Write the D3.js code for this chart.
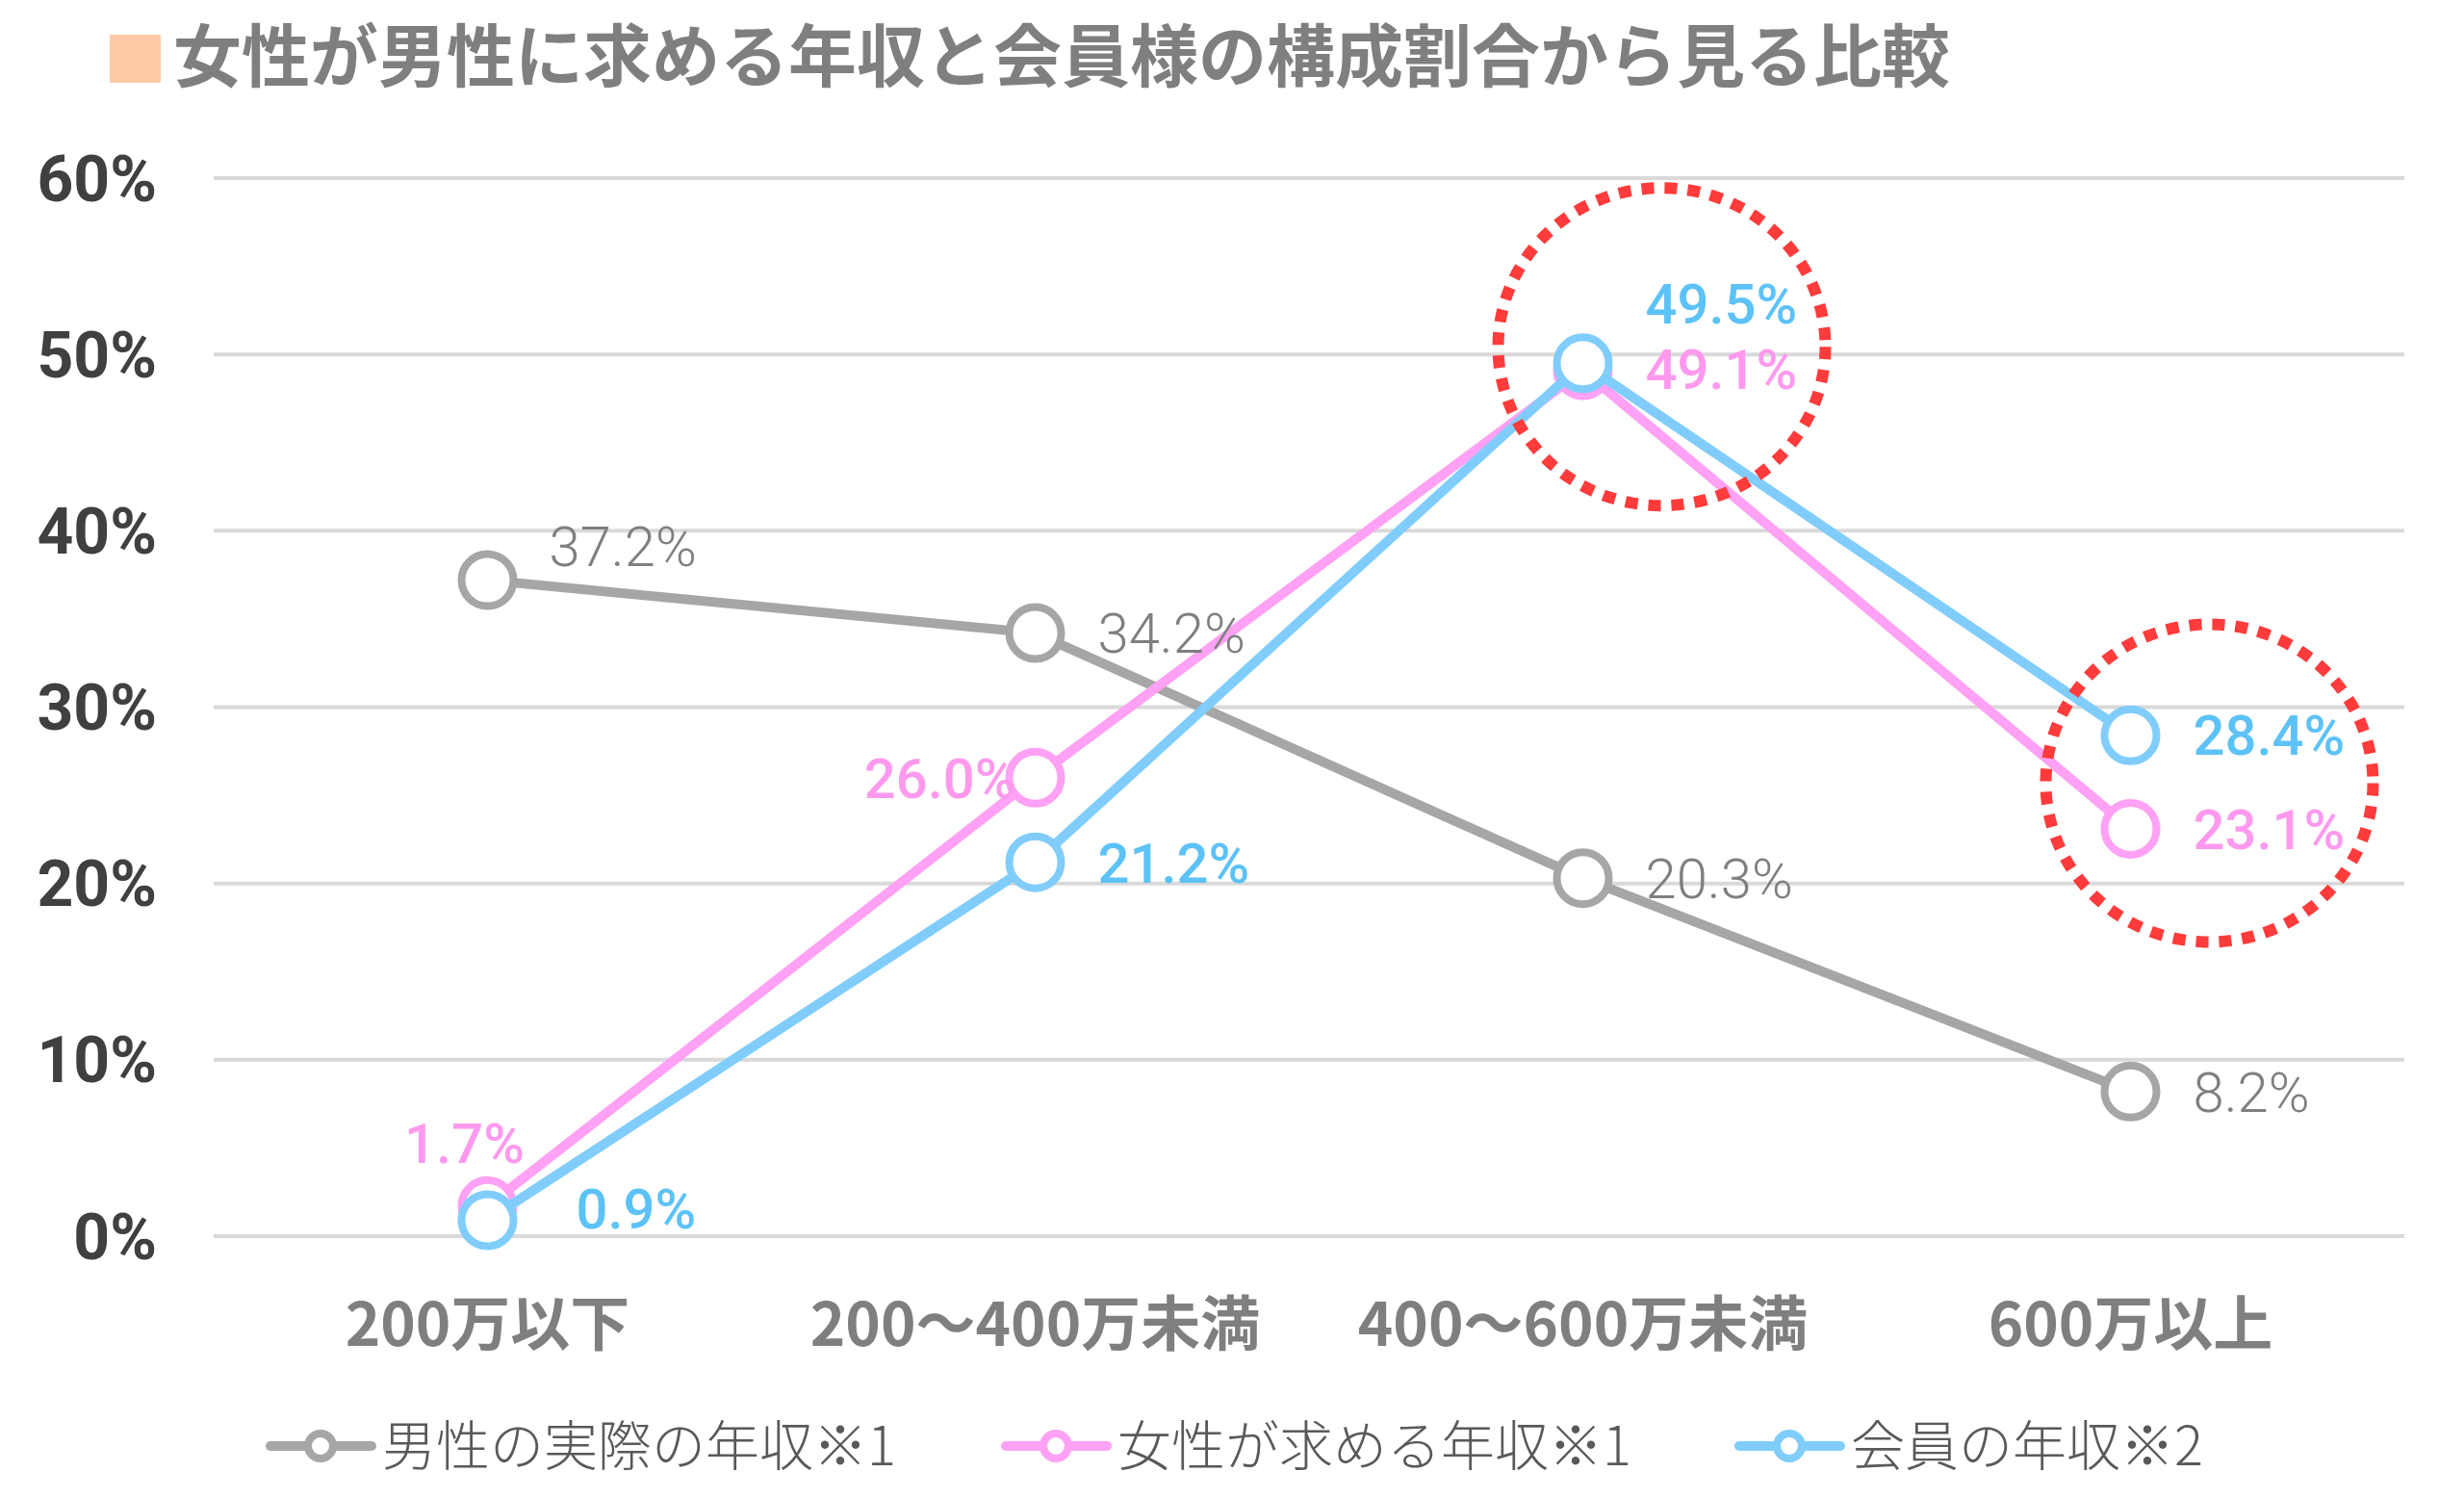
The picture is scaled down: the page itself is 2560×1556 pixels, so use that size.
<!DOCTYPE html>
<html>
<head>
<meta charset="utf-8">
<script src="https://cdn.jsdelivr.net/npm/d3@7"></script>
<style>
  body { margin: 0; background: #fff; }
  svg { display: block; }
</style>
</head>
<body>
<svg id="chart" width="2560" height="1556"></svg>
<script>
// data
var categories = ["200万以下", "200〜400万未満", "400〜600万未満", "600万以上"];
var seriesNames = ["男性の実際の年収※1", "女性が求める年収※1", "会員の年収※2"];
var actualMen = [37.2, 34.2, 20.3, 8.2];
var wantedWomen = [1.7, 26.0, 49.1, 23.1];
var members = [0.9, 21.2, 49.5, 28.4];
var yTicks = [0, 10, 20, 30, 40, 50, 60];

var W = 2560, H = 1556;
var svg = d3.select("#chart");

var x = d3.scaleBand().domain(categories).range([222, 2498]);
var y = d3.scaleLinear().domain([0, 60]).range([1284, 185]);
var cx = function(c) { return x(c) + x.bandwidth() / 2; };

// series: colour, text colour, weight, label placement per point [dx, dy]
var series = [
  { name: seriesNames[0], values: actualMen, line: "#a6a6a6", text: "#7f7f7f", weight: 300,
    place: [[64, -36, "start"], [65, 0, "start"], [65, 0, "start"], [65, 0, "start"]] },
  { name: seriesNames[1], values: wantedWomen, line: "#ffa1f4", text: "#ff99ee", weight: 500,
    place: [[-24, -66, "middle"], [-20, 0, "end"], [65, -2, "start"], [65, 0, "start"]] },
  { name: seriesNames[2], values: members, line: "#80cdfc", text: "#5cc2f7", weight: 500,
    place: [[92, -12, "start"], [65, 0, "start"], [65, -62, "start"], [65, -1, "start"]] }
];

// title
svg.append("rect").attr("x", 114).attr("y", 36).attr("width", 53).attr("height", 50).attr("fill", "#ffcba6");
svg.append("text").attr("x", 180).attr("y", 84)
  .attr("font-family", "'Noto Sans CJK JP', sans-serif").attr("font-weight", 700)
  .attr("font-size", 71).attr("fill", "#7f7f7f")
  .text("女性が男性に求める年収と会員様の構成割合から見る比較");

// grid
svg.append("g").selectAll("line").data(yTicks).join("line")
  .attr("x1", 222).attr("x2", 2498)
  .attr("y1", function(d) { return y(d); }).attr("y2", function(d) { return y(d); })
  .attr("stroke", "#d9d9d9").attr("stroke-width", 4);

// y axis
var yAxis = d3.axisLeft(y).tickValues(yTicks).tickSize(0).tickPadding(0)
  .tickFormat(function(d) { return d + "%"; });
var gy = svg.append("g").attr("transform", "translate(163,0)").call(yAxis);
gy.select(".domain").remove();
gy.selectAll("text").attr("font-family", "Roboto, sans-serif").attr("font-weight", 700)
  .attr("font-size", 66).attr("fill", "#404040").attr("dy", "0.35em");

// x axis
var xAxis = d3.axisBottom(x).tickSize(0).tickPadding(0);
var gx = svg.append("g").attr("transform", "translate(0,1398)").call(xAxis);
gx.select(".domain").remove();
gx.selectAll("text").attr("font-family", "'Noto Sans CJK JP', sans-serif").attr("font-weight", 700)
  .attr("font-size", 62).attr("fill", "#7f7f7f").attr("dy", 0);

// lines and markers
var line = d3.line().x(function(d, i) { return cx(categories[i]); }).y(function(d) { return y(d); });
series.forEach(function(s) {
  var g = svg.append("g");
  g.append("path").datum(s.values).attr("d", line)
    .attr("fill", "none").attr("stroke", s.line).attr("stroke-width", 10).attr("stroke-linejoin", "round");
  g.selectAll("circle").data(s.values).join("circle")
    .attr("cx", function(d, i) { return cx(categories[i]); })
    .attr("cy", function(d) { return y(d); })
    .attr("r", 27).attr("fill", "#fff").attr("stroke", s.line).attr("stroke-width", 8);
});

// data labels
series.forEach(function(s) {
  svg.append("g").selectAll("text").data(s.values).join("text")
    .attr("x", function(d, i) { return cx(categories[i]) + s.place[i][0]; })
    .attr("y", function(d, i) { return y(d) + s.place[i][1]; })
    .attr("dy", "0.36em")
    .attr("text-anchor", function(d, i) { return s.place[i][2]; })
    .attr("font-family", "Roboto, sans-serif").attr("font-weight", s.weight)
    .attr("font-size", 58).attr("fill", s.text)
    .text(function(d) { return d.toFixed(1) + "%"; });
});

// highlight circles
var highlights = [
  { cat: categories[2], v: 50, dx: 82, dy: -8 },
  { cat: categories[3], v: 25.8, dx: 82, dy: 2 }
];
svg.append("g").selectAll("ellipse").data(highlights).join("ellipse")
  .attr("cx", function(d) { return cx(d.cat) + d.dx; })
  .attr("cy", function(d) { return y(d.v) + d.dy; })
  .attr("rx", 170).attr("ry", 165)
  .attr("fill", "none").attr("stroke", "#ff3b3b").attr("stroke-width", 12)
  .attr("stroke-dasharray", "13 11");

// legend
var legendX = [281, 1045, 1807];
var leg = svg.append("g").selectAll("g").data(series).join("g")
  .attr("transform", function(d, i) { return "translate(" + legendX[i] + ",1502)"; });
leg.append("line").attr("x1", 0).attr("x2", 105)
  .attr("stroke", function(d) { return d.line; }).attr("stroke-width", 10).attr("stroke-linecap", "round");
leg.append("circle").attr("cx", 52).attr("r", 13).attr("fill", "#fff")
  .attr("stroke", function(d) { return d.line; }).attr("stroke-width", 8);
leg.append("text").attr("x", 116).attr("dy", "0.36em")
  .attr("font-family", "'Noto Sans CJK JP', sans-serif").attr("font-weight", 300)
  .attr("font-size", 56).attr("fill", "#595959")
  .text(function(d) { return d.name; });
</script>
</body>
</html>
